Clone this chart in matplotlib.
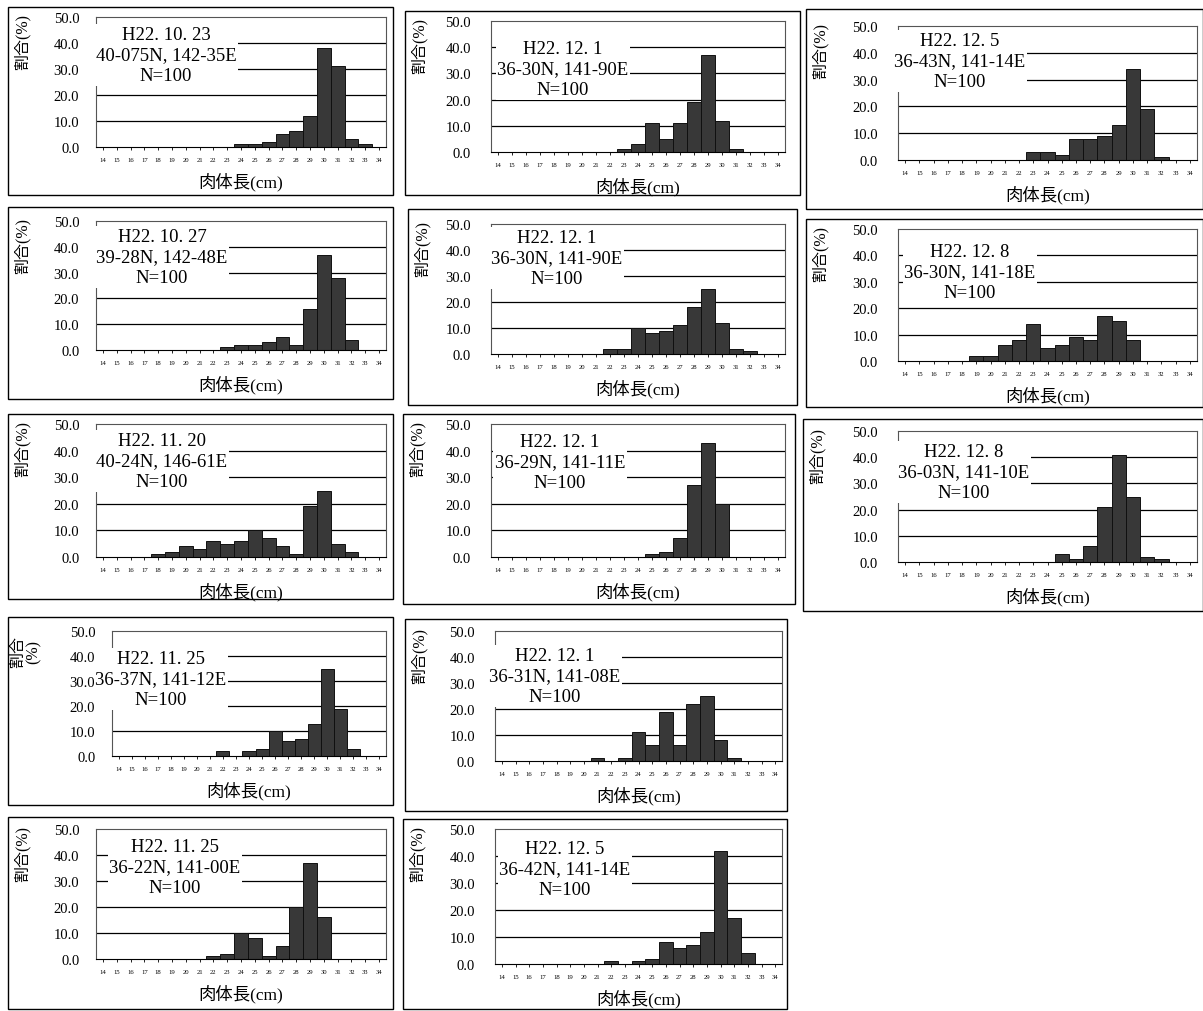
import matplotlib
matplotlib.use('Agg')
import matplotlib.pyplot as plt
from matplotlib.patches import Rectangle

plt.rcParams['font.family'] = ['Liberation Serif', 'Noto Sans CJK JP']

W, H = 1203, 1012

# body length classes (cm)
lengths = list(range(14, 35))


def dist(d):
    return [d.get(k, 0) for k in lengths]


dates = ['H22. 10. 23', 'H22. 10. 27', 'H22. 11. 20', 'H22. 11. 25', 'H22. 11. 25',
         'H22. 12. 1', 'H22. 12. 1', 'H22. 12. 1', 'H22. 12. 1', 'H22. 12. 5',
         'H22. 12. 5', 'H22. 12. 8', 'H22. 12. 8']
places = ['40-075N, 142-35E', '39-28N, 142-48E', '40-24N, 146-61E', '36-37N, 141-12E',
          '36-22N, 141-00E', '36-30N, 141-90E', '36-30N, 141-90E', '36-29N, 141-11E',
          '36-31N, 141-08E', '36-42N, 141-14E', '36-43N, 141-14E', '36-30N, 141-18E',
          '36-03N, 141-10E']
counts = [100] * 13

# percentage per length class
pct = [
    dist({24: 1, 25: 1, 26: 2, 27: 5, 28: 6, 29: 12, 30: 38, 31: 31, 32: 3, 33: 1}),
    dist({23: 1, 24: 2, 25: 2, 26: 3, 27: 5, 28: 2, 29: 16, 30: 37, 31: 28, 32: 4}),
    dist({18: 1, 19: 2, 20: 4, 21: 3, 22: 6, 23: 5, 24: 6, 25: 10, 26: 7, 27: 4, 28: 1,
          29: 19, 30: 25, 31: 5, 32: 2}),
    dist({22: 2, 24: 2, 25: 3, 26: 10, 27: 6, 28: 7, 29: 13, 30: 35, 31: 19, 32: 3}),
    dist({22: 1, 23: 2, 24: 10, 25: 8, 26: 1, 27: 5, 28: 20, 29: 37, 30: 16}),
    dist({23: 1, 24: 3, 25: 11, 26: 5, 27: 11, 28: 19, 29: 37, 30: 12, 31: 1}),
    dist({22: 2, 23: 2, 24: 10, 25: 8, 26: 9, 27: 11, 28: 18, 29: 25, 30: 12, 31: 2, 32: 1}),
    dist({25: 1, 26: 2, 27: 7, 28: 27, 29: 43, 30: 20}),
    dist({21: 1, 23: 1, 24: 11, 25: 6, 26: 19, 27: 6, 28: 22, 29: 25, 30: 8, 31: 1}),
    dist({22: 1, 24: 1, 25: 2, 26: 8, 27: 6, 28: 7, 29: 12, 30: 42, 31: 17, 32: 4}),
    dist({23: 3, 24: 3, 25: 2, 26: 8, 27: 8, 28: 9, 29: 13, 30: 34, 31: 19, 32: 1}),
    dist({19: 2, 20: 2, 21: 6, 22: 8, 23: 14, 24: 5, 25: 6, 26: 9, 27: 8, 28: 17, 29: 15,
          30: 8}),
    dist({25: 3, 26: 1, 27: 6, 28: 21, 29: 41, 30: 25, 31: 2, 32: 1}),
]

# layout in pixels: outer frame (l, t, r, b), plot area (l, t, r, b), label block centre (x, y)
frames = [(8, 8, 393, 196), (8, 208, 393, 400), (8, 415, 393, 600), (8, 618, 393, 806),
          (8, 818, 393, 1010), (405, 12, 800, 196), (408, 210, 797, 406), (403, 415, 795, 605),
          (405, 620, 787, 812), (403, 820, 787, 1010), (806, 10, 1203, 210),
          (806, 220, 1203, 408), (803, 420, 1203, 612)]
plots = [(96, 18, 386, 148), (96, 222, 386, 351), (96, 425, 386, 558), (112, 632, 386, 757),
         (96, 830, 386, 960), (491, 22, 785, 153), (491, 225, 785, 355), (491, 425, 785, 558),
         (495, 632, 782, 762), (495, 830, 782, 965), (898, 27, 1197, 161),
         (898, 230, 1197, 362), (898, 432, 1197, 563)]
label_pos = [(166, 56), (162, 258), (162, 462), (161, 680), (175, 868), (563, 70), (557, 259),
             (560, 463), (555, 677), (565, 870), (960, 62), (970, 273), (964, 473)]

fig = plt.figure(figsize=(W / 100, H / 100), dpi=100)


def fx(x):
    return x / W


def fy(y):
    return 1 - y / H


for i in range(13):
    fl, ft, fr, fb = frames[i]
    fig.patches.append(Rectangle((fx(fl), fy(fb)), (fr - fl) / W, (fb - ft) / H,
                                 transform=fig.transFigure, fill=False,
                                 edgecolor='black', linewidth=1.0))
    l, t, r, b = plots[i]
    ax = fig.add_axes([fx(l), fy(b), (r - l) / W, (b - t) / H])
    for v in [10, 20, 30, 40]:
        ax.axhline(v, color='black', linewidth=0.9, zorder=1)
    ax.bar(lengths, pct[i], width=1.0, color='#383838', edgecolor='#101010',
           linewidth=0.7, zorder=2)
    ax.set_xlim(13.5, 34.5)
    ax.set_ylim(0, 50)
    ax.set_yticks([0, 10, 20, 30, 40, 50])
    ax.set_yticklabels(['%.1f' % v for v in [0, 10, 20, 30, 40, 50]], fontsize=10.5)
    ax.set_xticks(lengths)
    ax.set_xticklabels([str(v) for v in lengths], fontsize=4.8)
    ax.tick_params(axis='y', length=0, pad=12 if i < 5 else 14.5)
    ax.tick_params(axis='x', length=2, pad=5, width=0.6)
    for s in ax.spines.values():
        s.set_color('#555555')
        s.set_linewidth(0.8)
    ax.spines['bottom'].set_color('black')

    cx, cy = label_pos[i]
    fig.text(fx(cx), fy(cy), '%s\n%s\nN=%d' % (dates[i], places[i], counts[i]),
             ha='center', va='center', fontsize=13.5, linespacing=1.3, zorder=5,
             bbox=dict(facecolor='white', edgecolor='none', pad=1.0))

    fig.text(fx((l + r) / 2), fy(b + 34), '肉体長(cm)', ha='center', va='center',
             fontsize=12.5)
    if i == 3:
        fig.text(fx(26), fy(t + 20), '割合\n(%)', ha='center', va='center', rotation=90,
                 fontsize=11.5, linespacing=1.0)
    else:
        fig.text(fx(fl + 14), fy(t + 24), '割合(%)', ha='center', va='center', rotation=90,
                 fontsize=11.5)

fig.savefig('out.png', dpi=100)
